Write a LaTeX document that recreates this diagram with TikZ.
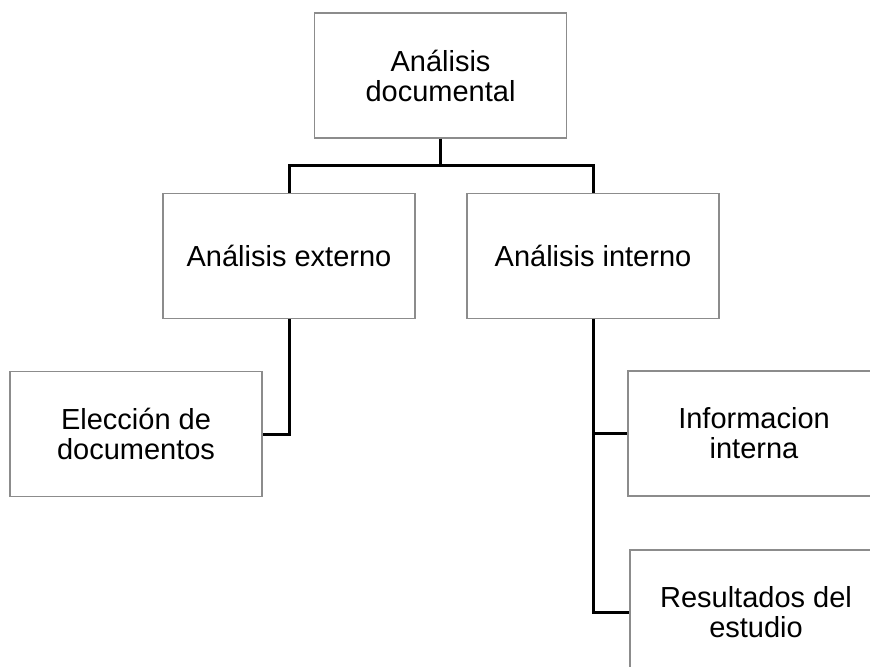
\documentclass[tikz,border=0pt]{standalone}
\usepackage{fontspec}
\setmainfont{Liberation Sans}

\begin{document}
\begin{tikzpicture}[x=0.5pt,y=-0.5pt,
    caja/.style={rectangle,draw=black!45,line width=0.75pt,minimum width=126pt,minimum height=62.5pt,align=center,inner sep=0pt,font=\fontsize{14.5pt}{15pt}\selectfont},
    rama/.style={draw=black,line width=1.5pt}]
    \clip (0,0) rectangle (870,667);
    \node[caja] (i1) at (440.5,75.5) {Análisis\\documental};
    \node[caja] (e1) at (289,256) {Análisis externo};
    \node[caja] (n1) at (593,256) {Análisis interno};
    \node[caja] (e2) at (136,434) {Elección de\\documentos};
    \node[caja] (n2) at (754,433.5) {Informacion\\interna};
    \node[caja] (n3) at (756,612.5) {Resultados del\\estudio};
    \coordinate (j1) at (440.5,166);
    \draw[rama] (i1.south) -- (j1);
    \draw[rama] (e1.north) |- (j1) -| (n1.north);
    \draw[rama] (e1.south) |- (e2.east);
    \draw[rama] (n1.south) |- (n2.west);
    \draw[rama] (n1.south) |- (n3.west);
\end{tikzpicture}
\end{document}
